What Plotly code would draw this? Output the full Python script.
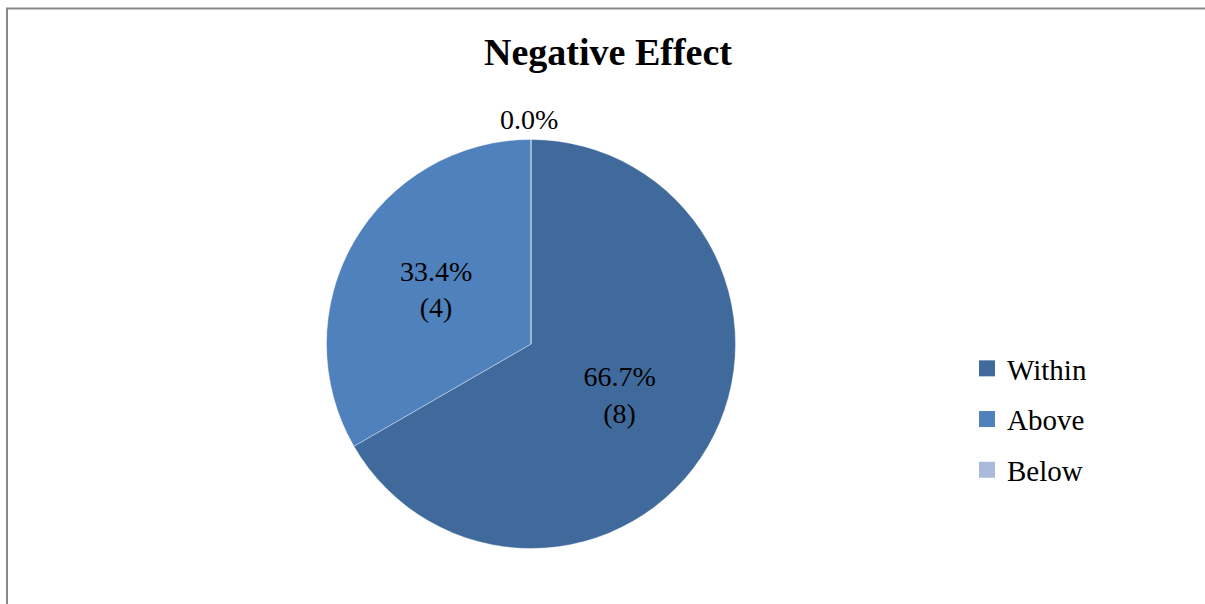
import plotly.graph_objects as go

categories = ["Within", "Above", "Below"]
values = [8, 4, 0]
pct_labels = ["66.7%", "33.4%", "0.0%"]
count_labels = ["(8)", "(4)", ""]
colors = ["#416A9C", "#4F81BD", "#A9BADA"]

W, H = 1205, 604
cx, cy, r = 531, 344, 204.5
FONT = "Liberation Serif"

# inside labels for non-zero slices; zero slices get an outside annotation
texts = [(p + "<br>" + c) if v > 0 else "" for p, c, v in zip(pct_labels, count_labels, values)]

fig = go.Figure()
fig.add_trace(go.Pie(
    labels=categories,
    values=values,
    text=texts,
    textinfo="text",
    textposition="inside",
    insidetextorientation="horizontal",
    sort=False,
    direction="clockwise",
    rotation=0,
    marker=dict(colors=colors, line=dict(color="rgba(255,255,255,0.35)", width=1)),
    textfont=dict(family=FONT, size=28, color="black"),
    insidetextfont=dict(family=FONT, size=28, color="black"),
    domain=dict(x=[(cx - r) / W, (cx + r) / W], y=[(H - cy - r) / H, (H - cy + r) / H]),
    hoverinfo="skip",
    showlegend=False,
))

# legend entries
for cat, col in zip(categories, colors):
    fig.add_trace(go.Scatter(
        x=[None], y=[None], mode="markers", name=cat,
        marker=dict(symbol="square", size=16, color=col),
        legendgroup=cat, showlegend=True, hoverinfo="skip",
    ))

annotations = []
for p, v in zip(pct_labels, values):
    if v == 0:
        annotations.append(dict(
            text=p, x=(cx - 2) / W, y=(H - (cy - r) + 20) / H,
            xref="paper", yref="paper", xanchor="center", yanchor="middle",
            showarrow=False, font=dict(family=FONT, size=28, color="black"),
        ))

fig.update_layout(
    width=W, height=H,
    margin=dict(l=0, r=0, t=0, b=0),
    paper_bgcolor="white",
    plot_bgcolor="white",
    font=dict(family=FONT, color="black"),
    xaxis=dict(visible=False),
    yaxis=dict(visible=False),
    title=dict(text="<b>Negative Effect</b>", x=608 / W, xanchor="center",
               y=1 - 52 / H, yanchor="middle", yref="container",
               font=dict(family=FONT, size=38, color="black")),
    legend=dict(x=967 / W, xanchor="left", y=1 - 343 / H, yanchor="top",
                font=dict(family=FONT, size=29, color="black"),
                itemwidth=30, traceorder="grouped", tracegroupgap=10,
                bgcolor="rgba(0,0,0,0)"),
    annotations=annotations,
    shapes=[dict(type="rect", xref="paper", yref="paper",
                 x0=7 / W, x1=1.05, y0=-0.05, y1=1 - 8.5 / H,
                 line=dict(color="#888888", width=2), fillcolor="rgba(0,0,0,0)")],
)

fig.write_html("out.html")
